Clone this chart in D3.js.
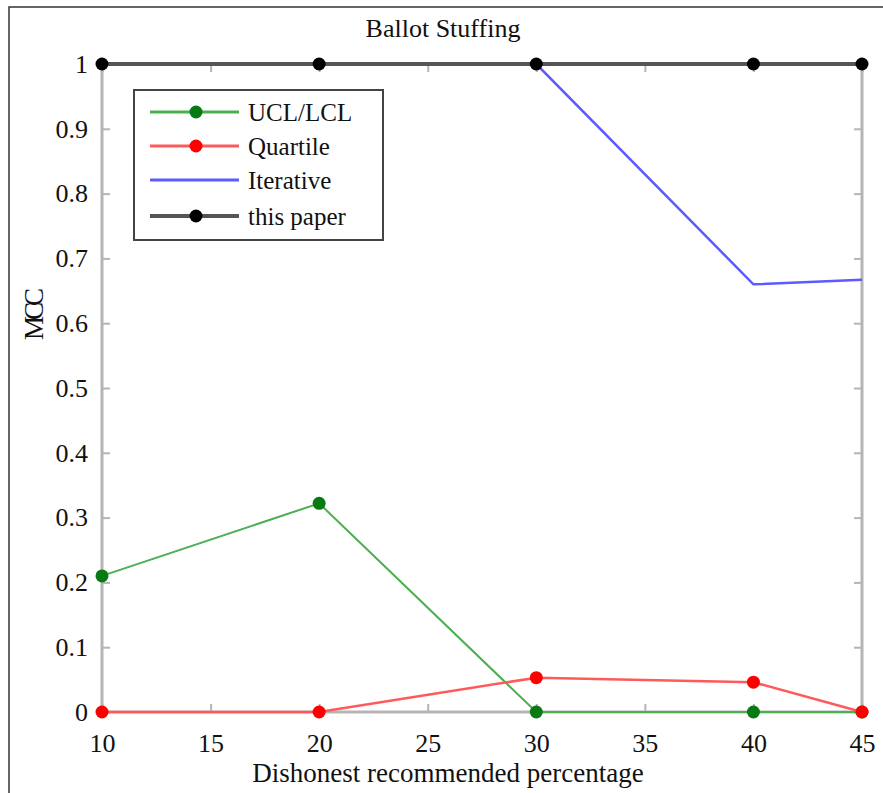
<!DOCTYPE html>
<html>
<head>
<meta charset="utf-8">
<script src="https://cdn.jsdelivr.net/npm/d3@7"></script>
<style>
  body { margin: 0; background: #fff; }
  text { font-family: "Liberation Serif", "DejaVu Serif", serif; fill: #111; }
</style>
</head>
<body>
<svg id="chart" width="883" height="793"></svg>
<script>
var percentages = [10, 20, 30, 40, 45];
var uclLcl = [0.21, 0.322, 0, 0, 0];
var quartile = [0, 0, 0.053, 0.046, 0];
var iterative = [1, 1, 1, 0.66, 0.667];
var thisPaper = [1, 1, 1, 1, 1];
var xTicks = [10, 15, 20, 25, 30, 35, 40, 45];
var yTicks = [0, 0.1, 0.2, 0.3, 0.4, 0.5, 0.6, 0.7, 0.8, 0.9, 1];

var series = [
    {name: 'UCL/LCL', values: uclLcl, line: '#4caf50', dot: '#087a12', width: 2, marker: true},
    {name: 'Quartile', values: quartile, line: '#ff5a5a', dot: '#ff0000', width: 2.5, marker: true},
    {name: 'Iterative', values: iterative, line: '#5b5bff', dot: null, width: 2.5, marker: false},
    {name: 'this paper', values: thisPaper, line: '#555', dot: '#000', width: 4, marker: true}
];

(function () {
    var
    svg = d3.select('#chart'),
    m = {left: 102, right: 862, top: 64, bottom: 712},
    x = d3.scaleLinear().domain([10, 45]).range([m.left, m.right]),
    y = d3.scaleLinear().domain([0, 1]).range([m.bottom, m.top]),
    axisColor = '#b5b5b5';

    // outer frame (clipped at right / bottom like the picture)
    svg.append('path')
        .attr('d', 'M9,800V7H890')
        .attr('fill', 'none').attr('stroke', '#333').attr('stroke-width', 1.5);

    // box axes with inward ticks
    var frame = svg.append('g');
    frame.append('rect')
        .attr('x', m.left).attr('y', m.top).attr('width', m.right - m.left).attr('height', m.bottom - m.top)
        .attr('fill', 'none').attr('stroke', axisColor).attr('stroke-width', 3);

    frame.append('g').attr('transform', 'translate(0,' + m.bottom + ')')
        .call(d3.axisBottom(x).tickValues(xTicks).tickSize(-8).tickPadding(22).tickFormat(d3.format('d')));
    frame.append('g').attr('transform', 'translate(0,' + m.top + ')')
        .call(d3.axisTop(x).tickValues(xTicks).tickSize(-8).tickFormat(''));
    frame.append('g').attr('transform', 'translate(' + m.left + ',0)')
        .call(d3.axisLeft(y).tickValues(yTicks).tickSize(-8).tickPadding(14).tickFormat(function (d) { return String(+d.toFixed(1)); }));
    frame.append('g').attr('transform', 'translate(' + m.right + ',0)')
        .call(d3.axisRight(y).tickValues(yTicks).tickSize(-8).tickFormat(''));

    frame.selectAll('.domain').remove();
    frame.selectAll('.tick line').attr('stroke', axisColor).attr('stroke-width', 2);
    frame.selectAll('g').attr('font-family', null).attr('font-size', null);
    frame.selectAll('.tick text').attr('font-size', 26).attr('fill', '#111');

    // series
    var line = d3.line()
        .x(function (d, i) { return x(percentages[i]); })
        .y(function (d) { return y(d); });

    series.forEach(function (s) {
        var g = svg.append('g');
        g.append('path')
            .attr('d', line(s.values))
            .attr('fill', 'none').attr('stroke', s.line).attr('stroke-width', s.width);
        if (s.marker) {
            g.selectAll('circle').data(s.values).enter().append('circle')
                .attr('cx', function (d, i) { return x(percentages[i]); })
                .attr('cy', function (d) { return y(d); })
                .attr('r', 6.5)
                .attr('fill', s.dot);
        }
    });

    // legend
    var legend = svg.append('g');
    legend.append('rect')
        .attr('x', 134).attr('y', 90).attr('width', 249).attr('height', 150)
        .attr('fill', '#fff').attr('stroke', '#444').attr('stroke-width', 2);
    var rowY = [112, 146, 180, 216];
    series.forEach(function (s, i) {
        var row = legend.append('g').attr('transform', 'translate(0,' + rowY[i] + ')');
        row.append('line').attr('x1', 150).attr('x2', 239)
            .attr('stroke', s.line).attr('stroke-width', s.width === 4 ? 4 : 3);
        if (s.marker) {
            row.append('circle').attr('cx', 196).attr('r', 6.5).attr('fill', s.dot);
        }
        row.append('text').attr('x', 248).attr('y', 9).attr('font-size', 25).text(s.name);
    });

    // titles
    svg.append('text').attr('x', 443).attr('y', 37).attr('text-anchor', 'middle')
        .attr('font-size', 26).text('Ballot Stuffing');
    svg.append('text').attr('x', 448).attr('y', 782).attr('text-anchor', 'middle')
        .attr('font-size', 27).text('Dishonest recommended percentage');
    svg.append('text').attr('transform', 'translate(43,316) rotate(-90)').attr('text-anchor', 'middle')
        .attr('font-size', 27).attr('letter-spacing', -4).text('MCC');
})();
</script>
</body>
</html>
